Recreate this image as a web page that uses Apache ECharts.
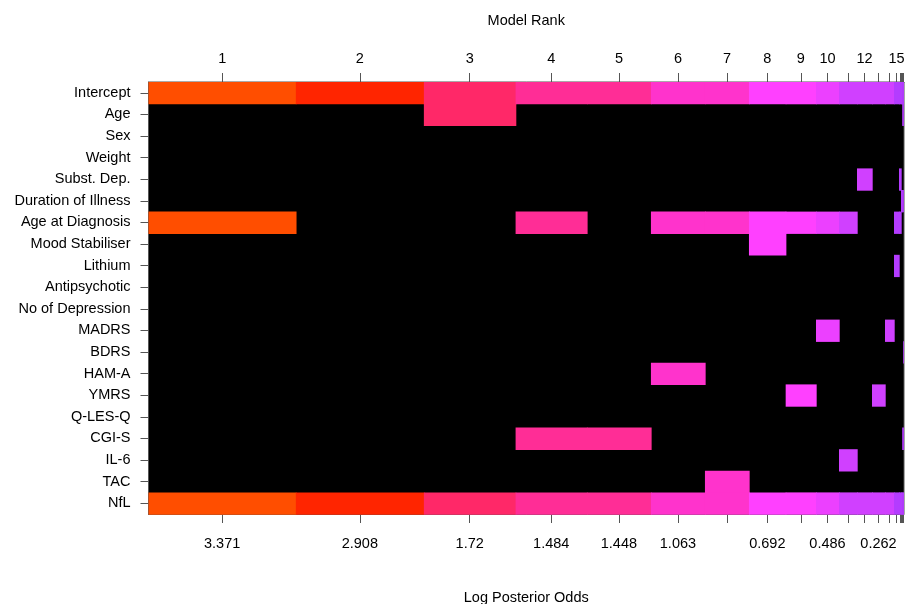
<!DOCTYPE html>
<html>
<head>
<meta charset="utf-8">
<script src="https://cdn.jsdelivr.net/npm/echarts@6/dist/echarts.min.js"></script>
<style>
html,body{margin:0;padding:0;background:#fff;}
#chart{width:907px;height:604px;}
</style>
</head>
<body>
<div id="chart"></div>
<script>
const variables = ["Intercept","Age","Sex","Weight","Subst. Dep.","Duration of Illness","Age at Diagnosis","Mood Stabiliser","Lithium","Antipsychotic","No of Depression","MADRS","BDRS","HAM-A","YMRS","Q-LES-Q","CGI-S","IL-6","TAC","NfL"];
const modelRanks = [1,2,3,4,5,6,7,8,9,10,11,12,13,14,15,16,17,18,19];
// relative column widths of each model (as drawn)
const modelWidths = [147.3,128,91.7,71.3,64,54,44,36.7,30.3,23,18,15,13,9,5,2,1.2,1.0,0.8];
const modelColors = ["#FF4E00","#FF2500","#FF2868","#FF2D96","#FF2D96","#FF33CC","#FF33CC","#FF40FF","#FF40FF","#EC40FF","#D040FF","#D040FF","#D040FF","#D040FF","#B43CFF","#B43CFF","#B43CFF","#B43CFF","#B43CFF"];
const modelVariables = [
  ["Intercept","Age at Diagnosis","NfL"],
  ["Intercept","NfL"],
  ["Intercept","Age","NfL"],
  ["Intercept","Age at Diagnosis","CGI-S","NfL"],
  ["Intercept","CGI-S","NfL"],
  ["Intercept","Age at Diagnosis","HAM-A","NfL"],
  ["Intercept","Age at Diagnosis","TAC","NfL"],
  ["Intercept","Age at Diagnosis","Mood Stabiliser","NfL"],
  ["Intercept","Age at Diagnosis","YMRS","NfL"],
  ["Intercept","Age at Diagnosis","MADRS","NfL"],
  ["Intercept","Age at Diagnosis","IL-6","NfL"],
  ["Intercept","Subst. Dep.","NfL"],
  ["Intercept","YMRS","NfL"],
  ["Intercept","MADRS","NfL"],
  ["Intercept","Age at Diagnosis","Lithium","NfL"],
  ["Intercept","Age at Diagnosis","Subst. Dep.","NfL"],
  ["Intercept","Duration of Illness","NfL"],
  ["Intercept","Age","Duration of Illness","CGI-S","NfL"],
  ["Intercept","BDRS","NfL"]
];
// tick labels shown on the top (rank) axis
const topLabelRanks = [1,2,3,4,5,6,7,8,9,10,12,15];
// tick labels shown on the bottom (log posterior odds) axis
const bottomLabelRanks = [1,2,3,4,5,6,8,10,13];
const bottomLabelValues = ["3.371","2.908","1.72","1.484","1.448","1.063","0.692","0.486","0.262"];

const starts = [], ends = [];
let acc = 0;
modelWidths.forEach(w => { starts.push(acc); acc += w; ends.push(acc); });
const total = acc;
const centers = starts.map((s, i) => (s + ends[i]) / 2);

const cells = [];
modelVariables.forEach((vars, m) => {
  vars.forEach(v => cells.push([m, variables.indexOf(v)]));
});

function nearestIdx(val) {
  let best = 0, bd = Infinity;
  centers.forEach((c, i) => { const d = Math.abs(c - val); if (d < bd) { bd = d; best = i; } });
  return best;
}
const topLabelMap = {}; topLabelRanks.forEach(r => topLabelMap[r - 1] = String(r));
const botLabelMap = {}; bottomLabelRanks.forEach((r, i) => botLabelMap[r - 1] = bottomLabelValues[i]);

const FONT = "'Liberation Sans', Arial, Helvetica, sans-serif";
const axisColor = "#555";
const chart = echarts.init(document.getElementById('chart'), null, {renderer: 'canvas'});
chart.setOption({
  animation: false,
  backgroundColor: '#fff',
  textStyle: {fontFamily: FONT},
  grid: {left: 148.5, right: 3, top: 82, bottom: 90, containLabel: false, outerBoundsMode: 'none',
    show: true, backgroundColor: '#000', borderColor: axisColor, borderWidth: 1},
  xAxis: [
    {
      type: 'value', position: 'top', min: 0, max: total,
      name: 'Model Rank', nameLocation: 'middle', nameGap: 54,
      nameTextStyle: {color: '#000', fontSize: 14.5, fontFamily: FONT},
      axisLine: {show: true, lineStyle: {color: axisColor}},
      splitLine: {show: false},
      axisTick: {show: true, length: 9, customValues: centers, lineStyle: {color: axisColor}},
      axisLabel: {show: true, customValues: topLabelRanks.map(r => centers[r - 1]), margin: 16,
        color: '#000', fontSize: 14.5, fontFamily: FONT,
        formatter: v => topLabelMap[nearestIdx(v)] || ''}
    },
    {
      type: 'value', position: 'bottom', min: 0, max: total,
      name: 'Log Posterior Odds', nameLocation: 'middle', nameGap: 76,
      nameTextStyle: {color: '#000', fontSize: 14.5, fontFamily: FONT},
      axisLine: {show: true, lineStyle: {color: axisColor}},
      splitLine: {show: false},
      axisTick: {show: true, length: 9, customValues: centers, lineStyle: {color: axisColor}},
      axisLabel: {show: true, customValues: bottomLabelRanks.map(r => centers[r - 1]), margin: 22,
        color: '#000', fontSize: 14.5, fontFamily: FONT,
        formatter: v => botLabelMap[nearestIdx(v)] || ''}
    }
  ],
  yAxis: {
    type: 'category', inverse: true, data: variables,
    axisLine: {show: true, lineStyle: {color: axisColor}},
    axisTick: {show: true, alignWithLabel: true, length: 8, lineStyle: {color: axisColor}},
    splitLine: {show: false},
    axisLabel: {margin: 18, color: '#000', fontSize: 14.5, fontFamily: FONT, interval: 0}
  },
  series: [{
    type: 'custom',
    xAxisIndex: 1,
    data: cells,
    renderItem: function (params, api) {
      const m = api.value(0), v = api.value(1);
      const p0 = api.coord([starts[m], v]);
      const p1 = api.coord([ends[m], v]);
      const h = api.size([0, 1])[1];
      const last = m === modelWidths.length - 1;
      return {
        type: 'rect',
        shape: {x: p0[0], y: p0[1] - h / 2, width: p1[0] - p0[0] + (last ? 0 : 0.7), height: h + 0.7},
        style: {fill: modelColors[m]}
      };
    }
  }]
});
</script>
</body>
</html>
